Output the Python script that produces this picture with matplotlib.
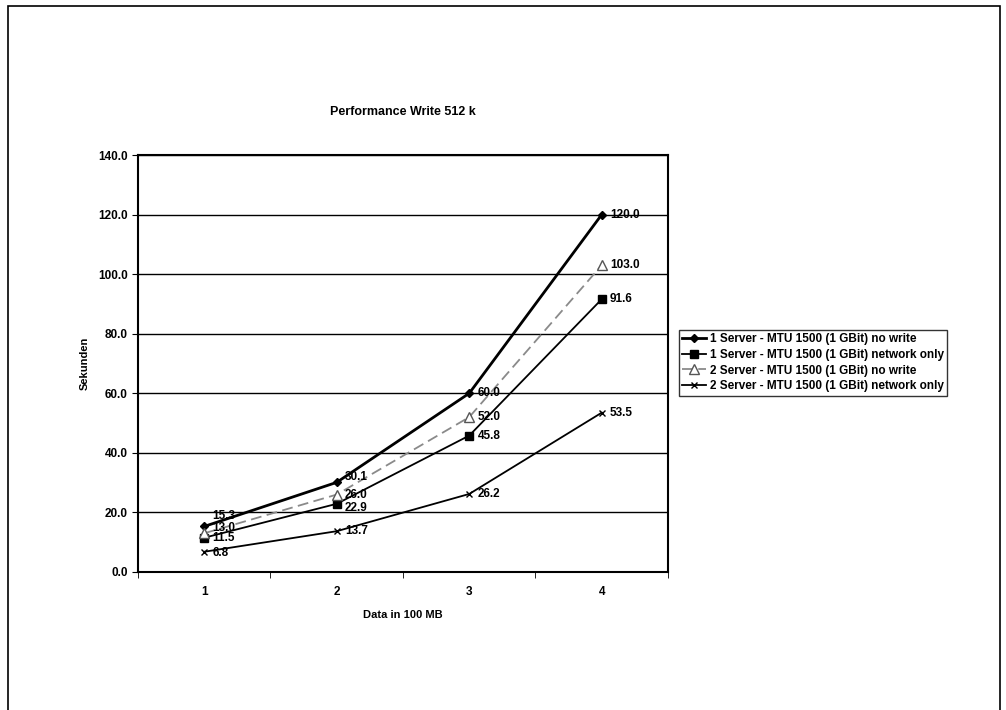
import matplotlib.pyplot as plt
from matplotlib.patches import Rectangle
from matplotlib.ticker import FormatStrFormatter

plt.rcParams['font.family'] = ['Liberation Sans', 'DejaVu Sans']
plt.rcParams['font.weight'] = 'bold'

# data
x_values = [1, 2, 3, 4]
series_names = [
    "1 Server - MTU 1500 (1 GBit) no write",
    "1 Server - MTU 1500 (1 GBit) network only",
    "2 Server - MTU 1500 (1 GBit) no write",
    "2 Server - MTU 1500 (1 GBit) network only",
]
one_server_no_write = [15.3, 30.1, 60.0, 120.0]
one_server_network = [11.5, 22.9, 45.8, 91.6]
two_server_no_write = [13.0, 26.0, 52.0, 103.0]
two_server_network = [6.8, 13.7, 26.2, 53.5]

fig = plt.figure(figsize=(10.06, 7.10), dpi=100)
W, H = 1006, 710

# outer frame of the chart
fig.patches.append(Rectangle((8 / W, -0.05), 992 / W, 1.05 - 6 / H, transform=fig.transFigure,
                             fill=False, edgecolor='black', linewidth=1.2))

ax = fig.add_axes([138 / W, 1 - 572 / H, (668 - 138) / W, (572 - 155) / H])

styles = [
    dict(color='black', lw=2.0, marker='D', ms=4, mfc='black', ls='-'),
    dict(color='black', lw=1.3, marker='s', ms=5.5, mfc='black', ls='-'),
    dict(color='#8a8a8a', lw=1.3, marker='^', ms=7, mfc='white', mec='#555555', ls=(0, (6, 3))),
    dict(color='black', lw=1.3, marker='x', ms=5, mec='black', ls='-'),
]
# small vertical nudges (points) so the crowded labels at x=1 and x=2 stay readable
label_dy = [[7.5, 4, 0, 0], [-0.5, -3, 0, 0], [4, 0, 0, 0], [-1, 0, 0, 0]]
all_series = [one_server_no_write, one_server_network, two_server_no_write, two_server_network]

for name, vals, st, dys in zip(series_names, all_series, styles, label_dy):
    ax.plot(x_values, vals, label=name, **st)
    for xv, yv, dy in zip(x_values, vals, dys):
        ax.annotate("%.1f" % yv, (xv, yv), xytext=(6, dy), textcoords='offset points',
                    ha='left', va='center', fontsize=8.5, fontweight='bold')

ax.set_xlim(0.5, 4.5)
ax.set_ylim(0, 140)
ax.set_yticks(range(0, 141, 20))
ax.yaxis.set_major_formatter(FormatStrFormatter('%.1f'))
ax.set_xticks(x_values)
ax.set_xticks([0.5, 1.5, 2.5, 3.5, 4.5], minor=True)
ax.tick_params(axis='x', which='major', length=0, pad=10, labelsize=8.5)
ax.tick_params(axis='x', which='minor', length=4, direction='out')
ax.tick_params(axis='y', length=4, direction='out', labelsize=8.5)
ax.grid(axis='y', color='black', lw=1.0)
ax.set_axisbelow(True)
for s in ax.spines.values():
    s.set_linewidth(1.5)

ax.set_title("Performance Write 512 k", fontsize=9, fontweight='bold', pad=29)
ax.set_xlabel("Data in 100 MB", fontsize=8, fontweight='bold', labelpad=9)
ax.set_ylabel("Sekunden", fontsize=8, fontweight='bold', labelpad=6)

leg = ax.legend(loc='upper left', bbox_to_anchor=(673 / W, 1 - 324 / H), bbox_transform=fig.transFigure,
                fontsize=8.5, frameon=True, fancybox=False, edgecolor='black', handlelength=2.0,
                borderpad=0.3, labelspacing=0.3, handletextpad=0.3)
leg.get_frame().set_linewidth(1.0)

fig.savefig("out.png", dpi=100)
